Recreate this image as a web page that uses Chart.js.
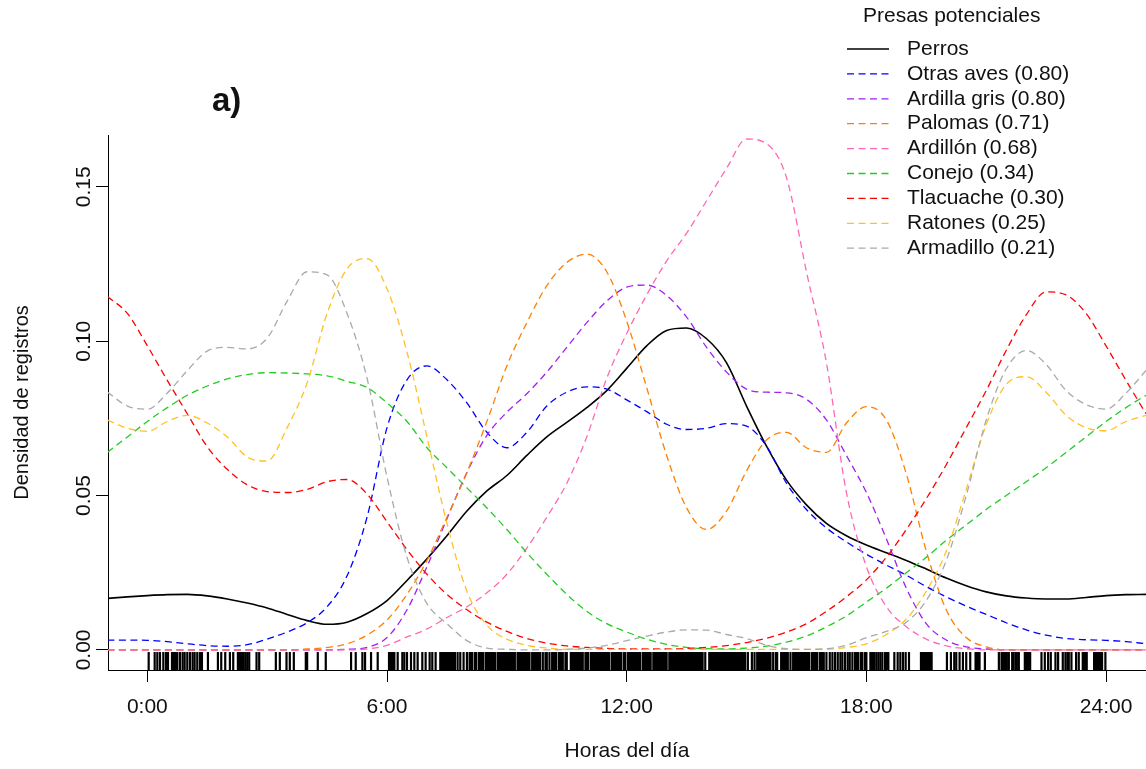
<!DOCTYPE html>
<html lang="es">
<head>
<meta charset="utf-8">
<title>Presas potenciales - actividad diaria</title>
<script src="https://cdn.jsdelivr.net/npm/chart.js@4.4.1/dist/chart.umd.min.js"></script>
<style>
  html, body { margin: 0; padding: 0; background: #fff; }
  #wrap { width: 1146px; height: 769px; }
</style>
</head>
<body>
<div id="wrap"><canvas id="activity" width="1146" height="769"></canvas></div>
<script>
// hour of day for every density sample
const hours = [-1, -0.5, 0, 0.5, 1, 1.5, 2, 2.5, 3, 3.5, 4, 4.5, 5, 5.5, 6, 6.5, 7, 7.5, 8, 8.5, 9, 9.5,
  10, 10.5, 11, 11.5, 12, 12.5, 13, 13.5, 14, 14.5, 15, 15.5, 16, 16.5, 17, 17.5, 18, 18.5, 19, 19.5,
  20, 20.5, 21, 21.5, 22, 22.5, 23, 23.5, 24, 24.5, 25];

// kernel density of records per species
const perros = [0.0167, 0.0172, 0.0176, 0.0179, 0.0180, 0.0175, 0.0165, 0.0152, 0.0136, 0.0115, 0.0095, 0.0083,
  0.0090, 0.0118, 0.0160, 0.0225, 0.0295, 0.0370, 0.0450, 0.0515, 0.0565, 0.0630, 0.0690, 0.0737, 0.0785,
  0.0840, 0.0912, 0.0985, 0.1035, 0.1043, 0.1008, 0.0930, 0.0790, 0.0660, 0.0550, 0.0470, 0.0410, 0.0370,
  0.0340, 0.0315, 0.0290, 0.0262, 0.0233, 0.0208, 0.0188, 0.0175, 0.0168, 0.0165, 0.0165, 0.0170, 0.0176,
  0.0179, 0.0180];
const otrasAves = [0.0032, 0.0032, 0.0031, 0.0027, 0.0020, 0.0014, 0.0012, 0.0017, 0.0035, 0.0058, 0.0088, 0.0140,
  0.0240, 0.0430, 0.0720, 0.0875, 0.0920, 0.0875, 0.0800, 0.0705, 0.0655, 0.0705, 0.0790, 0.0835, 0.0852,
  0.0845, 0.0810, 0.0772, 0.0731, 0.0714, 0.0718, 0.0733, 0.0725, 0.0660, 0.0540, 0.0455, 0.0395, 0.0350,
  0.0310, 0.0275, 0.0242, 0.0205, 0.0172, 0.0142, 0.0115, 0.0088, 0.0065, 0.0048, 0.0037, 0.0033, 0.0031,
  0.0027, 0.0020];
const ardillaGris = [0, 0, 0, 0, 0, 0, 0, 0, 0, 0, 0, 0,
  0.0002, 0.0008, 0.0040, 0.0130, 0.0270, 0.0425, 0.0575, 0.0695, 0.0770, 0.0830, 0.0900, 0.0980, 0.1060,
  0.1130, 0.1175, 0.1182, 0.1148, 0.1078, 0.0980, 0.0900, 0.0845, 0.0835, 0.0833, 0.0812, 0.0745, 0.0630,
  0.0510, 0.0360, 0.0200, 0.0085, 0.0032, 0.0010, 0.0003, 0, 0, 0, 0, 0, 0,
  0, 0];
const palomas = [0, 0, 0, 0, 0, 0, 0, 0, 0, 0, 0.0003, 0.0008,
  0.0020, 0.0048, 0.0097, 0.0180, 0.0290, 0.0430, 0.0575, 0.0740, 0.0920, 0.1060, 0.1180, 0.1255, 0.1282,
  0.1225, 0.1065, 0.0850, 0.0630, 0.0460, 0.0390, 0.0450, 0.0580, 0.0680, 0.0705, 0.0655, 0.0640, 0.0735,
  0.0788, 0.0745, 0.0570, 0.0320, 0.0130, 0.0040, 0.0010, 0, 0, 0, 0, 0, 0,
  0, 0];
const ardillon = [0, 0, 0, 0, 0, 0, 0, 0, 0, 0, 0, 0,
  0, 0.0003, 0.0015, 0.0042, 0.0068, 0.0105, 0.0140, 0.0185, 0.0245, 0.0330, 0.0430, 0.0540, 0.0690,
  0.0880, 0.1025, 0.1150, 0.1260, 0.1350, 0.1455, 0.1560, 0.1655, 0.1640, 0.1530, 0.1225, 0.0930, 0.0510,
  0.0270, 0.0140, 0.0075, 0.0035, 0.0013, 0.0004, 0, 0, 0, 0, 0, 0, 0,
  0, 0];
const conejo = [0.0640, 0.0690, 0.0740, 0.0785, 0.0825, 0.0855, 0.0878, 0.0892, 0.0898, 0.0897, 0.0894, 0.0888,
  0.0870, 0.0850, 0.0800, 0.0740, 0.0655, 0.0590, 0.0525, 0.0460, 0.0390, 0.0315, 0.0245, 0.0180, 0.0125,
  0.0085, 0.0058, 0.0035, 0.0018, 0.0008, 0.0004, 0.0003, 0.0006, 0.0012, 0.0025, 0.0045, 0.0075, 0.0110,
  0.0155, 0.0200, 0.0250, 0.0300, 0.0355, 0.0405, 0.0455, 0.0500, 0.0545, 0.0590, 0.0640, 0.0690, 0.0740,
  0.0785, 0.0825];
const tlacuache = [0.1145, 0.1090, 0.0985, 0.0873, 0.0765, 0.0658, 0.0585, 0.0535, 0.0513, 0.0510, 0.0520, 0.0545,
  0.0552, 0.0505, 0.0415, 0.0325, 0.0245, 0.0180, 0.0130, 0.0090, 0.0060, 0.0037, 0.0022, 0.0013, 0.0008,
  0.0005, 0.0003, 0.0003, 0.0003, 0.0005, 0.0008, 0.0014, 0.0024, 0.0038, 0.0058, 0.0085, 0.0125, 0.0172,
  0.0227, 0.0300, 0.0390, 0.0490, 0.0600, 0.0720, 0.0840, 0.0970, 0.1085, 0.1160, 0.1150, 0.1090, 0.0985,
  0.0873, 0.0765];
const ratones = [0.0745, 0.0718, 0.0708, 0.0740, 0.0760, 0.0735, 0.0690, 0.0625, 0.0612, 0.0720, 0.0865, 0.1090,
  0.1235, 0.1268, 0.1170, 0.0965, 0.0690, 0.0410, 0.0190, 0.0080, 0.0035, 0.0015, 0.0006, 0.0002, 0.0002,
  0.0002, 0.0002, 0.0002, 0.0002, 0.0002, 0.0002, 0.0002, 0.0002, 0.0002, 0.0002, 0.0002, 0.0002, 0.0008,
  0.0020, 0.0050, 0.0100, 0.0190, 0.0320, 0.0520, 0.0730, 0.0860, 0.0885, 0.0835, 0.0760, 0.0720, 0.0710,
  0.0740, 0.0760];
const armadillo = [0.0835, 0.0790, 0.0780, 0.0832, 0.0905, 0.0968, 0.0980, 0.0975, 0.1010, 0.1130, 0.1225, 0.1215,
  0.1090, 0.0880, 0.0560, 0.0300, 0.0150, 0.0085, 0.0030, 0.0006, 0.0002, 0, 0, 0.0002, 0.0006,
  0.0015, 0.0030, 0.0045, 0.0058, 0.0065, 0.0064, 0.0050, 0.0037, 0.0015, 0.0004, 0.0002, 0.0004, 0.0015,
  0.0040, 0.0060, 0.0090, 0.0160, 0.0290, 0.0500, 0.0745, 0.0910, 0.0970, 0.0925, 0.0840, 0.0795, 0.0780,
  0.0832, 0.0905];

const speciesNames = ['Perros', 'Otras aves', 'Ardilla gris', 'Palomas', 'Ardillón', 'Conejo', 'Tlacuache', 'Ratones', 'Armadillo'];
const overlaps = [null, 0.80, 0.80, 0.71, 0.68, 0.34, 0.30, 0.25, 0.21];
const speciesColors = ['#000000', '#0000ff', '#a020f0', '#ff7f00', '#ff69b4', '#22cc22', '#ff0000', '#ffc125', '#aaaaaa'];
const speciesSeries = [perros, otrasAves, ardillaGris, palomas, ardillon, conejo, tlacuache, ratones, armadillo];

// minute of day of each dog record (rug under the curves)
const rugMinutes = [
  2, 11, 15, 19, 24, 28, 31, 37, 39, 41, 43, 45, 49, 53, 56, 60, 64, 68, 71, 75, 79, 82, 91, 106, 111, 117,
  124, 129, 136, 138, 140, 142, 144, 147, 150, 153, 164, 168, 193, 199, 209, 214, 220, 238,
  240, 256, 268, 306, 313, 323, 327, 336, 346, 363, 365, 367, 369, 371, 376, 383, 386, 390, 396, 401, 406,
  413, 418, 424, 428, 433, 440, 442, 444, 446, 448, 450, 452, 454, 456, 458, 460, 462, 466, 470, 475, 480,
  484, 486, 488, 492, 494, 498, 500, 502, 504, 508, 510, 512, 514, 516, 518, 520, 522, 526, 528, 530, 532,
  534, 536, 538, 540, 542, 544, 546, 548, 550, 552, 556, 558, 560, 562, 564, 566, 568, 570, 572, 574, 578,
  580, 582, 584, 586, 588, 590, 594, 598, 600, 604, 608, 610, 612, 614, 618, 620, 622, 624, 628, 630, 636,
  638, 640, 642, 644, 646, 648, 650, 652, 654, 658, 660, 662, 666, 668, 670, 672, 674, 676, 678, 680, 682,
  684, 686, 688, 690, 692, 694, 698, 700, 702, 704, 706, 708, 710, 712, 716, 718, 722, 724, 726, 728, 730,
  732, 734, 736, 738, 740,
  744, 746, 748, 750, 752, 754, 756, 760, 762, 764, 766, 768, 770, 772, 774, 776, 778, 780, 784, 786, 788,
  790, 792, 794, 796, 798, 800, 802, 804, 806, 808, 810, 812, 814, 816, 818, 820, 822, 824, 826, 828, 830,
  832, 834, 838, 844, 846, 848, 850, 852, 854, 856, 858, 860, 862, 864, 866, 868, 870, 872, 874, 876, 878,
  880, 882, 884, 886, 888, 890, 892, 894, 896, 898, 902, 908, 912, 916, 918, 920, 922, 924, 926, 928, 930,
  932, 934, 936, 940, 944, 946, 952, 954, 956, 958, 960, 962, 966, 970, 972, 974, 976, 978, 980, 982, 984,
  986, 988, 990, 992, 994,
  998, 1000, 1002, 1004, 1006, 1010, 1012, 1014, 1016, 1020, 1025, 1029, 1033, 1037, 1041, 1044, 1048, 1052,
  1055, 1059, 1063, 1066, 1068, 1072, 1074, 1078, 1080, 1086, 1088, 1090, 1092, 1095, 1098, 1101, 1104, 1108,
  1111, 1113, 1122, 1127, 1131, 1135, 1139, 1144, 1162, 1164, 1166, 1168, 1170, 1172, 1174, 1176, 1178,
  1201, 1207, 1212, 1215, 1220, 1225, 1230,
  1236, 1244, 1246, 1248, 1250, 1258, 1279, 1283, 1285, 1287, 1289, 1291, 1294, 1299, 1301, 1304, 1306, 1309,
  1318, 1320, 1322, 1324, 1326, 1343, 1348, 1353, 1357, 1364, 1368, 1375, 1379, 1382, 1384, 1388, 1395, 1399,
  1405, 1407, 1409, 1411, 1422, 1424, 1426, 1428, 1430, 1432, 1434, 1439
];

const xTicks = [0, 6, 12, 18, 24];
const xTickLabels = ['0:00', '6:00', '12:00', '18:00', '24:00'];
const yTicks = [0, 0.05, 0.10, 0.15];
const yTickLabels = ['0.00', '0.05', '0.10', '0.15'];

const fontFamily = '"Liberation Sans", Arial, Helvetica, sans-serif';
const textColor = '#111';
const rugLevel = -0.0036;

const datasets = speciesNames.map((name, i) => ({
  label: overlaps[i] === null ? name : `${name} (${overlaps[i].toFixed(2)})`,
  data: hours.map((h, j) => ({ x: h, y: speciesSeries[i][j] })),
  borderColor: speciesColors[i],
  borderWidth: i === 0 ? 1.6 : 1.3,
  borderDash: i === 0 ? [] : [7, 4.5],
  pointRadius: 0,
  cubicInterpolationMode: 'monotone',
  fill: false,
  order: speciesNames.length - i
}));

datasets.push({
  label: 'registros',
  data: rugMinutes.map(m => ({ x: m / 60, y: rugLevel })),
  showLine: false,
  pointStyle: 'line',
  pointRotation: 90,
  pointRadius: 9,
  pointBorderWidth: 2.2,
  pointBorderColor: '#000',
  order: 20
});

// rotated y tick labels, panel tag and legend
const extras = {
  id: 'extras',
  afterDraw(chart) {
    const { ctx, scales: { y } } = chart;
    ctx.save();
    ctx.fillStyle = textColor;
    ctx.font = `21px ${fontFamily}`;
    ctx.textAlign = 'center';
    ctx.textBaseline = 'alphabetic';
    yTicks.forEach((v, i) => {
      ctx.save();
      ctx.translate(90, y.getPixelForValue(v));
      ctx.rotate(-Math.PI / 2);
      ctx.fillText(yTickLabels[i], 0, 0);
      ctx.restore();
    });

    ctx.font = `bold 33px ${fontFamily}`;
    ctx.textAlign = 'left';
    ctx.fillText('a)', 212, 111);

    ctx.font = `21px ${fontFamily}`;
    ctx.textBaseline = 'middle';
    ctx.fillText('Presas potenciales', 863, 16);
    speciesNames.forEach((_, i) => {
      const ds = chart.data.datasets[i];
      const ly = 49 + i * 24.9;
      ctx.save();
      ctx.strokeStyle = ds.borderColor;
      ctx.lineWidth = ds.borderWidth;
      ctx.setLineDash(ds.borderDash);
      ctx.beginPath();
      ctx.moveTo(847, ly);
      ctx.lineTo(889, ly);
      ctx.stroke();
      ctx.restore();
      ctx.fillText(ds.label, 907, ly);
    });
    ctx.restore();
  }
};

new Chart(document.getElementById('activity'), {
  type: 'line',
  data: { datasets },
  plugins: [extras],
  options: {
    responsive: false,
    animation: false,
    events: [],
    layout: { autoPadding: false, padding: { top: 135, left: 0, right: 0, bottom: 0 } },
    plugins: { legend: { display: false }, tooltip: { enabled: false } },
    scales: {
      x: {
        type: 'linear',
        min: -0.985,
        max: 25.0,
        afterBuildTicks: s => { s.ticks = xTicks.map(v => ({ value: v })); },
        afterFit: s => { s.height = 99; },
        ticks: {
          callback: (v, i) => xTickLabels[i],
          font: { family: fontFamily, size: 21 },
          color: textColor,
          padding: 13,
          maxRotation: 0,
          autoSkip: false
        },
        grid: { drawOnChartArea: false, drawTicks: true, tickLength: 12, color: '#000', lineWidth: 1 },
        border: { display: true, color: '#000', width: 1 },
        title: {
          display: true,
          text: 'Horas del día',
          font: { family: fontFamily, size: 21 },
          color: textColor,
          padding: { top: 0, bottom: 5 }
        }
      },
      y: {
        type: 'linear',
        min: -0.0065,
        max: 0.1668,
        afterBuildTicks: s => { s.ticks = yTicks.map(v => ({ value: v })); },
        afterFit: s => { s.width = 108; },
        ticks: { display: false },
        grid: { drawOnChartArea: false, drawTicks: true, tickLength: 12, color: '#000', lineWidth: 1 },
        border: { display: true, color: '#000', width: 1 },
        title: {
          display: true,
          text: 'Densidad de registros',
          font: { family: fontFamily, size: 20 },
          color: textColor,
          padding: { top: 10, bottom: 0 }
        }
      }
    }
  }
});
</script>
</body>
</html>
